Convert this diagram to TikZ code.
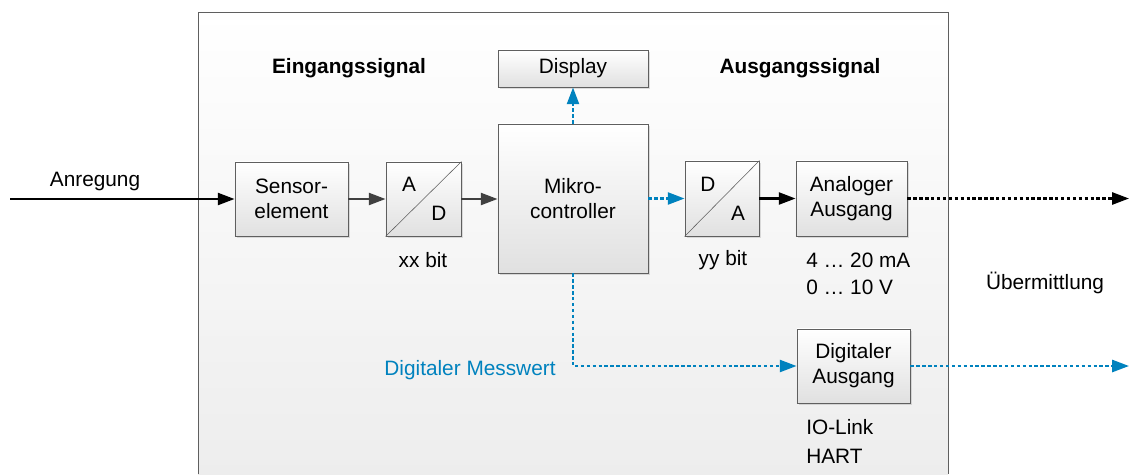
\documentclass[tikz,border=0pt]{standalone}
\usepackage{fontspec}
\setmainfont{Liberation Sans}
\usepackage{tikz}
\usetikzlibrary{positioning, arrows.meta, shadows, calc}
\definecolor{MWBlue}{RGB}{0,130,190}
\definecolor{MWGray}{RGB}{95,95,95}
\definecolor{MWDark}{RGB}{64,64,64}

\begin{document}
\begin{tikzpicture}[x=0.025cm, y=-0.025cm,
    font=\fontsize{14.8}{17.8}\selectfont,
    blk/.style={rectangle, draw=MWGray, line width=0.6pt, top color=white,
                bottom color=black!12, align=center, inner sep=0pt,
                drop shadow={opacity=0.25, shadow xshift=1.2pt, shadow yshift=-1.2pt}},
    lbl/.style={inner sep=0pt},
    sig/.style={-{Triangle[length=0.42cm, width=0.3cm]}, line width=1.7pt},
    dig/.style={sig, MWBlue, dash pattern=on 2.4pt off 1.8pt},
    ana/.style={sig, black, dash pattern=on 2.4pt off 1.8pt}
  ]
  \useasboundingbox (0,0) rectangle (1129,474);

  % Geraet
  \shade[top color=white, bottom color=black!7] (198,12) rectangle (948,474);
  \draw[MWGray, line width=0.7pt] (198,474) |- (948,12) -- (948,474);

  \node[font=\fontsize{14.8}{17.8}\selectfont\bfseries] (ein) at (349,68) {Eingangssignal};
  \node[font=\fontsize{14.8}{17.8}\selectfont\bfseries] (aus) at (800,68) {Ausgangssignal};

  \node[blk, minimum width=2.825cm, minimum height=1.85cm]  (sensor) at (291.5,199) {Sensor-\\element};
  \node[blk, minimum width=1.875cm, minimum height=1.85cm]  (ad)     at (423.5,199) {};
  \node[blk, minimum width=3.75cm,  minimum height=3.725cm] (mc)     at (573,198.5) {Mikro-\\controller};
  \node[blk, minimum width=3.75cm,  minimum height=0.925cm] (disp)   at (573,68.5)  {Display};
  \node[blk, minimum width=1.85cm,  minimum height=1.875cm] (da)     at (722,198.5) {};
  \node[blk, minimum width=2.775cm, minimum height=1.875cm] (analog) at (851.5,198.5) {Analoger\\Ausgang};
  \node[blk, minimum width=2.825cm, minimum height=1.85cm]  (digout) at (853.5,366) {Digitaler\\Ausgang};

  % Wandler
  \draw[MWGray, thin] (ad.south west) -- (ad.north east);
  \node[lbl] (adA) at (409,184) {A};
  \node[lbl] (adD) at (439,213) {D};
  \draw[MWGray, thin] (da.south west) -- (da.north east);
  \node[lbl] (daD) at (708,184) {D};
  \node[lbl] (daA) at (738,213) {A};

  \node[lbl] (xx) at (423,260) {xx bit};
  \node[lbl] (yy) at (723,260) {yy bit};
  \node[lbl, anchor=west] (ma)   at (806,260) {4 … 20 mA};
  \node[lbl, anchor=west] (volt) at (806,287) {0 … 10 V};
  \node[lbl, anchor=west] (io)   at (806,427) {IO-Link};
  \node[lbl, anchor=west] (hart) at (806,456) {HART};
  \node[lbl] (ueb) at (1045,283) {Übermittlung};
  \node[lbl, MWBlue] (mw) at (470,370) {Digitaler Messwert};
  \node[lbl] (anr) at (95,181) {Anregung};

  \coordinate (start) at (10,199);
  \coordinate (aend)  at (1129,198.5);
  \coordinate (dend)  at (1129,366);

  % Signalfluss
  \draw[sig, black] (start) -- (sensor.west);
  \draw[sig, MWDark] (sensor.east) -- (ad.west);
  \draw[sig, MWDark] (ad.east) -- (ad.east -| mc.west);
  \draw[dig] (mc.east) -- (da.west);
  \draw[sig, black] (da.east) -- (analog.west);
  \draw[ana] (analog.east) -- (aend);
  \draw[dig] (mc.north) -- (disp.south);
  \draw[dig] (mc.south) |- (digout.west);
  \draw[dig] (digout.east) -- (dend);
\end{tikzpicture}
\end{document}
